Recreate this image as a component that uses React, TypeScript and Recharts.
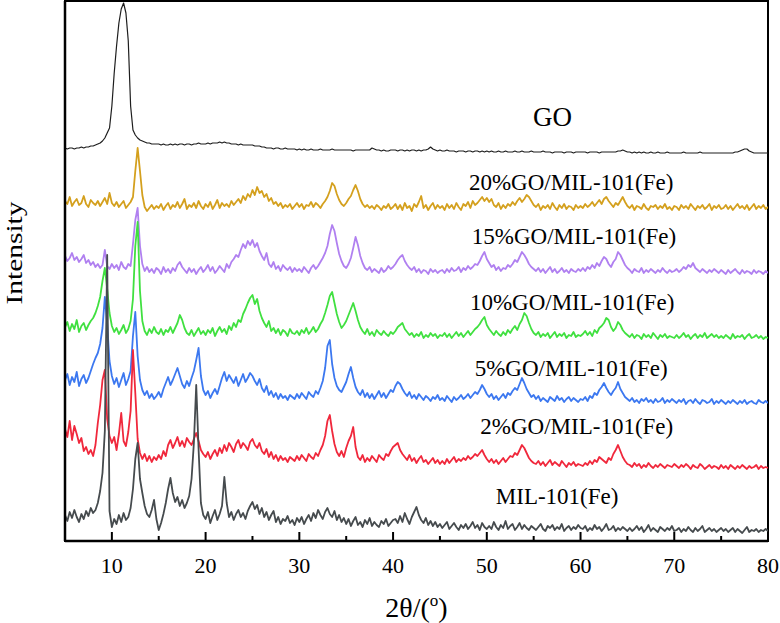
import React from 'react';
import { LineChart, Line, XAxis, YAxis, ReferenceArea, ReferenceDot } from 'recharts';

// 2θ sampling, 0.25° steps from 5° to 80°
const theta: number[] = [];
for (let i = 0; i <= 300; i++) theta.push(5 + i * 0.25);

const xTicks = [5, 10, 15, 20, 25, 30, 35, 40, 45, 50, 55, 60, 65, 70, 75, 80];

// raw intensities (a.u.), one row per 5°
const goValues = [
  13, 12, 13, 13, 12, 13, 13, 14, 13, 14, 14, 15, 15, 16, 17, 18, 20, 23, 28, 33,
  55, 88, 115, 138, 152, 158, 148, 120, 55, 31, 26, 23, 21, 20, 19, 18, 18, 17, 17, 17,
  17, 16, 17, 16, 16, 17, 16, 17, 16, 17, 17, 16, 17, 17, 16, 17, 17, 18, 17, 17,
  17, 18, 17, 18, 18, 18, 19, 18, 19, 18, 18, 17, 17, 17, 16, 17, 16, 16, 16, 16,
  16, 15, 15, 15, 14, 14, 13, 13, 13, 12, 13, 13, 12, 12, 13, 12, 12, 12, 12, 11,
  12, 11, 12, 11, 11, 12, 11, 11, 11, 12, 11, 11, 11, 11, 12, 11, 11, 11, 11, 11,
  11, 11, 11, 10, 11, 11, 11, 11, 11, 11, 11, 13, 12, 11, 11, 10, 11, 10, 10, 11,
  11,
  11, 10, 11, 11, 10, 11, 10, 11, 11, 10, 11, 10, 11, 11, 12, 14, 12, 11, 10, 11,
  10, 10, 11, 10, 10, 10, 9, 10, 10, 10, 9, 10, 10, 9, 10, 10, 9, 10, 9, 10,
  9, 10, 9, 9, 10, 9, 9, 10, 9, 9, 9, 10, 9, 9, 10, 9, 9, 9, 10, 9,
  9, 9, 9, 10, 9, 9, 9, 8, 9, 9, 9, 9, 8, 9, 9, 9, 8, 9, 9, 9,
  9, 9, 8, 9, 9, 9, 9, 8, 9, 9, 9, 9, 9, 9, 9, 10, 10, 11, 10, 9,
  9, 8, 9, 8, 9, 8, 9, 8, 8, 9, 8, 8, 9, 8, 8, 8, 9, 8, 8, 8,
  8, 8, 8, 9, 8, 8, 8, 8, 8, 8, 9, 8, 8, 8, 8, 8, 8, 8, 8, 8,
  8, 8, 8, 8, 8, 9, 9, 10, 11, 12, 12, 10, 9, 8, 8, 8, 8, 8, 8, 8,
];

const go20Values = [
  20, 17, 24, 15, 19, 22, 16, 18, 25, 17, 14, 21, 18, 16, 20, 15, 19, 23, 17, 28,
  18, 15, 19, 14, 17, 20, 13, 16, 19, 24, 50, 73, 50, 26, 14, 10, 13, 16, 12, 15,
  13, 17, 11, 15, 18, 12, 16, 14, 19, 13, 17, 22, 12, 16, 14, 18, 13, 20, 15, 12,
  17, 14, 19, 12, 16, 21, 13, 18, 15, 17, 14, 20, 16, 19, 22, 18, 25, 21, 27, 24,
  31, 26, 34, 28, 30, 24, 27, 20, 23, 17, 19, 15, 18, 13, 16, 14, 17, 12, 15, 18,
  14, 17, 12, 16, 15, 19, 14, 18, 16, 13, 17, 20, 24, 30, 38, 35, 27, 21, 17, 15,
  18, 22, 25, 31, 36, 30, 22, 17, 14, 16, 13, 15, 12, 16, 14, 11, 15, 13, 17, 12,
  14,
  17, 12, 16, 11, 18, 13, 15, 10, 17, 14, 19, 25, 13, 16, 11, 15, 18, 12, 16, 13,
  15, 11, 17, 13, 16, 12, 18, 14, 11, 17, 15, 19, 13, 20, 16, 18, 21, 24, 20, 23,
  19, 22, 16, 14, 18, 12, 16, 13, 17, 15, 19, 16, 20, 23, 19, 22, 26, 24, 20, 16,
  14, 17, 11, 15, 13, 16, 12, 18, 14, 11, 16, 13, 17, 12, 15, 14, 11, 16, 13, 15,
  13, 17, 14, 16, 19, 15, 18, 21, 17, 22, 24, 20, 17, 14, 18, 16, 20, 24, 19, 15,
  13, 16, 11, 15, 14, 12, 17, 13, 11, 15, 14, 16, 12, 15, 13, 17, 12, 14, 11, 15,
  14, 11, 16, 13, 15, 12, 17, 14, 11, 15, 13, 16, 12, 14, 17, 11, 15, 13, 16, 12,
  13, 16, 12, 15, 11, 14, 17, 13, 15, 12, 16, 11, 14, 17, 12, 15, 13, 16, 12, 14,
];

const go15Values = [
  30, 25, 28, 33, 26, 29, 24, 27, 31, 23, 26, 21, 24, 19, 22, 18, 21, 36, 20, 17,
  22, 18, 21, 16, 24, 19, 17, 22, 20, 42, 66, 78, 40, 22, 15, 19, 14, 17, 13, 18,
  16, 12, 19, 14, 17, 13, 18, 15, 21, 24, 19, 16, 13, 18, 14, 17, 12, 16, 19, 14,
  17, 21, 15, 19, 13, 16, 20, 17, 14, 22, 18, 24, 27, 31, 29, 36, 42, 38, 45, 41,
  46, 39, 43, 35, 30, 26, 33, 22, 19, 24, 17, 20, 15, 21, 18, 16, 19, 14, 18, 15,
  17, 14, 19, 16, 13, 18, 21, 17, 20, 24, 28, 33, 40, 52, 61, 55, 43, 32, 25, 20,
  18, 22, 28, 38, 49, 41, 30, 23, 18, 16, 19, 14, 17, 15, 13, 18, 14, 16, 20, 17,
  19,
  22, 26, 29, 31, 25, 21, 18, 16, 19, 14, 17, 13, 16, 15, 12, 17, 14, 16, 13, 15,
  16, 13, 17, 14, 18, 15, 16, 19, 14, 18, 16, 20, 17, 19, 22, 21, 25, 30, 34, 27,
  23, 19, 21, 16, 19, 15, 18, 17, 21, 19, 22, 26, 24, 29, 34, 31, 27, 22, 19, 17,
  15, 18, 14, 17, 13, 16, 19, 14, 17, 13, 15, 18, 14, 16, 13, 17, 15, 14, 17, 15,
  18, 15, 19, 17, 21, 18, 23, 20, 25, 29, 27, 22, 19, 24, 27, 34, 31, 26, 21, 18,
  16, 13, 17, 15, 14, 18, 13, 16, 14, 17, 15, 13, 16, 14, 18, 15, 13, 16, 14, 15,
  17, 14, 16, 19, 17, 21, 19, 23, 18, 16, 14, 17, 15, 13, 16, 14, 17, 15, 13, 16,
  14, 12, 16, 13, 15, 17, 14, 12, 16, 13, 15, 14, 12, 16, 13, 15, 14, 12, 15, 13,
];

const go10Values = [
  24, 29, 20, 27, 22, 31, 19, 25, 28, 21, 26, 30, 33, 38, 45, 54, 70, 83, 62, 38,
  25, 19, 23, 17, 21, 26, 18, 22, 30, 52, 105, 129, 60, 30, 20, 16, 22, 18, 24, 19,
  17, 22, 16, 21, 19, 24, 18, 23, 28, 36, 31, 23, 18, 16, 21, 15, 19, 23, 17, 20,
  16, 21, 18, 23, 15, 20, 24, 19, 22, 17, 25, 21, 28, 24, 31, 29, 37, 42, 48, 53,
  56, 47, 52, 40, 33, 28, 24, 30, 20, 23, 18, 22, 16, 21, 19, 15, 22, 18, 17, 20,
  16, 21, 18, 23, 17, 20, 24, 19, 22, 27, 31, 38, 46, 55, 59, 48, 37, 29, 23, 26,
  30, 36, 42, 48, 40, 31, 24, 20, 17, 22, 16, 19, 15, 21, 18, 16, 20, 17, 15, 19,
  17,
  20, 24, 26, 28, 22, 19, 16, 18, 14, 17, 15, 19, 13, 16, 14, 18, 15, 17, 13, 16,
  15, 18, 14, 17, 13, 16, 19, 15, 18, 14, 17, 20, 16, 19, 22, 24, 27, 31, 34, 26,
  22, 19, 16, 20, 17, 15, 19, 16, 21, 18, 22, 25, 21, 27, 31, 38, 35, 28, 22, 18,
  16, 19, 14, 17, 15, 18, 13, 16, 19, 14, 17, 15, 18, 13, 16, 15, 19, 14, 16, 15,
  17, 20, 16, 19, 15, 21, 18, 23, 25, 28, 33, 31, 24, 20, 23, 29, 26, 21, 18, 16,
  14, 17, 13, 16, 15, 12, 17, 14, 16, 13, 18, 15, 12, 16, 14, 17, 13, 15, 14, 13,
  16, 13, 15, 18, 14, 16, 12, 15, 17, 13, 16, 14, 18, 13, 15, 17, 14, 16, 13, 15,
  13, 16, 14, 12, 17, 13, 15, 14, 16, 12, 15, 17, 13, 14, 16, 13, 15, 12, 14, 13,
];

const go5Values = [
  36, 42, 31, 39, 34, 44, 30, 37, 41, 33, 38, 45, 52, 58, 63, 72, 88, 119, 92, 55,
  40, 32, 38, 29, 36, 43, 31, 37, 45, 80, 104, 60, 36, 26, 21, 25, 18, 22, 17, 20,
  24, 19, 27, 33, 39, 31, 36, 42, 48, 40, 32, 28, 35, 30, 38, 45, 56, 68, 40, 26,
  21, 25, 18, 23, 27, 22, 30, 38, 44, 35, 41, 37, 33, 39, 30, 36, 42, 34, 38, 43,
  40, 35, 31, 37, 28, 24, 30, 21, 25, 19, 23, 17, 22, 18, 20, 16, 21, 19, 17, 22,
  18, 23, 20, 17, 24, 21, 19, 25, 22, 28, 35, 48, 70, 76, 52, 38, 30, 26, 24, 29,
  34, 42, 49, 38, 29, 24, 21, 26, 19, 23, 18, 22, 17, 21, 25, 19, 23, 18, 22, 26,
  24,
  30, 34, 32, 27, 23, 20, 24, 18, 21, 17, 22, 19, 16, 20, 18, 15, 19, 17, 21, 16,
  18, 15, 20, 17, 14, 19, 16, 18, 21, 17, 19, 22, 18, 21, 24, 22, 26, 31, 27, 22,
  19, 22, 17, 20, 16, 19, 22, 18, 23, 21, 25, 28, 26, 32, 38, 33, 27, 23, 19, 21,
  17, 20, 15, 18, 16, 14, 19, 17, 15, 20, 16, 18, 14, 17, 19, 15, 18, 16, 14, 17,
  16, 19, 15, 20, 18, 23, 21, 26, 29, 33, 28, 24, 21, 25, 28, 34, 27, 23, 19, 17,
  15, 18, 14, 16, 13, 17, 15, 18, 14, 16, 13, 17, 14, 15, 18, 13, 16, 14, 17, 15,
  13, 16, 14, 17, 12, 15, 16, 13, 17, 14, 12, 16, 15, 13, 14, 17, 12, 15, 13, 16,
  14, 12, 15, 13, 16, 14, 12, 15, 13, 16, 12, 14, 15, 13, 12, 16, 14, 13, 15, 13,
];

const go2Values = [
  52, 44, 60, 41, 55, 47, 38, 43, 30, 34, 27, 31, 25, 36, 58, 76, 101, 111, 62, 45,
  38, 44, 31, 47, 68, 40, 35, 49, 70, 131, 88, 42, 28, 22, 27, 20, 25, 19, 24, 21,
  26, 22, 30, 25, 36, 41, 33, 38, 44, 35, 40, 34, 43, 39, 36, 42, 48, 40, 31, 27,
  24, 29, 22, 27, 31, 25, 33, 28, 36, 30, 38, 34, 29, 37, 41, 33, 38, 35, 31, 39,
  42, 36, 33, 38, 30, 27, 32, 24, 29, 22, 26, 20, 25, 21, 23, 19, 24, 22, 20, 25,
  21, 26, 23, 20, 27, 24, 22, 28, 25, 31, 36, 45, 60, 66, 50, 37, 29, 25, 30, 24,
  33, 40, 45, 54, 34, 24, 21, 26, 19, 23, 20, 25, 22, 19, 26, 23, 21, 27, 25, 30,
  34,
  36, 38, 31, 27, 24, 21, 26, 20, 23, 18, 22, 25, 19, 21, 17, 20, 23, 18, 21, 17,
  20, 17, 22, 18, 21, 24, 19, 22, 20, 23, 21, 25, 22, 24, 27, 25, 28, 31, 26, 22,
  19, 22, 18, 21, 17, 20, 23, 19, 22, 25, 24, 28, 26, 31, 36, 33, 28, 23, 20, 18,
  17, 20, 16, 19, 15, 18, 21, 16, 19, 17, 15, 20, 17, 14, 18, 16, 19, 15, 17, 16,
  15, 18, 16, 20, 17, 21, 19, 24, 22, 20, 18, 23, 21, 27, 31, 36, 30, 24, 20, 17,
  16, 14, 18, 15, 17, 13, 16, 14, 18, 15, 13, 16, 14, 17, 15, 13, 16, 15, 14, 17,
  15, 13, 16, 14, 17, 15, 12, 16, 14, 13, 17, 15, 12, 14, 16, 13, 15, 14, 12, 16,
  13, 15, 12, 16, 14, 12, 15, 13, 16, 14, 12, 15, 13, 14, 16, 12, 15, 13, 14, 13,
];

const milValues = [
  26, 20, 29, 23, 31, 24, 19, 27, 22, 30, 25, 33, 28, 31, 38, 50, 68, 110, 286, 30,
  14, 22, 17, 26, 19, 28, 21, 24, 33, 52, 82, 98, 62, 48, 35, 27, 24, 31, 41, 22,
  11, 18, 27, 38, 52, 63, 48, 39, 44, 35, 41, 33, 38, 45, 62, 98, 156, 92, 38, 26,
  22, 29, 18, 25, 31, 21, 27, 35, 64, 38, 24, 29, 21, 27, 31, 24, 28, 22, 30, 35,
  39, 32, 36, 27, 33, 24, 29, 21, 26, 30, 19, 24, 17, 22, 20, 25, 18, 21, 16, 23,
  19, 24, 17, 22, 26, 20, 28, 23, 31, 26, 22, 29, 33, 27, 24, 30, 21, 26, 19, 23,
  17, 22, 15, 20, 24, 16, 19, 14, 21, 17, 23, 15, 19, 16, 14, 20, 17, 22, 15, 18,
  21,
  22, 18, 25, 19, 28, 22, 17, 24, 29, 34, 26, 21, 18, 23, 16, 20, 15, 19, 14, 17,
  13, 16, 19, 12, 15, 18, 14, 11, 16, 13, 17, 12, 15, 19, 13, 16, 11, 18, 14, 12,
  15, 12, 19, 14, 11, 16, 13, 20, 12, 15, 17, 11, 14, 18, 12, 16, 13, 11, 15, 13,
  11, 14, 17, 12, 10, 15, 13, 16, 11, 14, 12, 17, 10, 13, 15, 11, 14, 12, 16, 13,
  12, 15, 10, 13, 11, 16, 12, 14, 10, 13, 17, 11, 12, 15, 10, 13, 11, 14, 12, 10,
  13, 10, 12, 15, 11, 14, 9, 12, 16, 10, 13, 11, 9, 14, 12, 10, 13, 11, 15, 10,
  11, 13, 9, 12, 10, 14, 11, 9, 13, 10, 12, 15, 9, 11, 13, 10, 12, 9, 11, 13,
  10, 12, 9, 11, 13, 9, 12, 10, 8, 11, 14, 9, 11, 10, 12, 9, 11, 10, 12, 10,
];

// vertical stacking offsets (a.u.)
const seriesNames = ['GO', '20%GO/MIL-101(Fe)', '15%GO/MIL-101(Fe)', '10%GO/MIL-101(Fe)', '5%GO/MIL-101(Fe)', '2%GO/MIL-101(Fe)', 'MIL-101(Fe)'];
const seriesOffsets = [380, 320, 255, 190, 125, 60, 0];
const seriesValues = [goValues, go20Values, go15Values, go10Values, go5Values, go2Values, milValues];
const seriesColors = ['#1e1e1e', '#D4A01E', '#B080F0', '#40E040', '#3C78F0', '#F0283C', '#464B4E'];

// where each curve's name sits (2θ, stacked intensity)
const labelTheta = [57.0, 59.0, 59.3, 59.1, 59.0, 59.6, 57.5];
const labelLevel = [415, 351, 297, 231, 165, 107, 37];
const labelSize = [27, 23, 23, 23, 23, 23, 23];

const data = theta.map((t, i) => {
  const row: Record<string, number> = { theta: t };
  seriesValues.forEach((vals, s) => {
    row['s' + s] = vals[i] + seriesOffsets[s];
  });
  return row;
});

const FONT = "'Liberation Serif', 'Times New Roman', serif";

const AxisTick = (props: any) => {
  const { x, y, payload } = props;
  const major = payload.value % 10 === 0;
  return (
    <g>
      <line x1={x} x2={x} y1={y} y2={y - (major ? 9 : 5)} stroke="#000" strokeWidth={2} />
      {major && (
        <text x={x} y={y + 32} textAnchor="middle" fontSize={22} fontFamily={FONT} fill="#000">
          {payload.value}
        </text>
      )}
    </g>
  );
};

const renderXLabel = (props: any) => {
  const vb = props.viewBox;
  return (
    <text x={vb.x + vb.width / 2} y={vb.y + 76} textAnchor="middle" fontSize={28} fontFamily={FONT} fill="#000">
      2θ/(<tspan dy={-11} fontSize={17}>o</tspan><tspan dy={11}>)</tspan>
    </text>
  );
};

const renderYLabel = (props: any) => {
  const vb = props.viewBox;
  const cx = vb.x + 22;
  const cy = vb.y + vb.height / 2 - 18;
  return (
    <text
      x={cx}
      y={cy}
      transform={`rotate(-90 ${cx} ${cy})`}
      textAnchor="middle"
      fontSize={23}
      fontFamily={FONT}
      textLength={103}
      lengthAdjust="spacingAndGlyphs"
      fill="#000"
    >
      Intensity
    </text>
  );
};

export default function App() {
  return (
    <div style={{ position: 'absolute', left: 0, top: 0, background: '#fff' }}>
      <LineChart width={780} height={623} data={data} margin={{ top: 1, right: 12, bottom: 0, left: 0 }}>
        <XAxis
          dataKey="theta"
          type="number"
          domain={[5, 80]}
          ticks={xTicks}
          interval={0}
          tickSize={0}
          tickMargin={0}
          tickLine={false}
          tick={<AxisTick />}
          height={82}
          axisLine={{ stroke: '#000', strokeWidth: 2.5 }}
          allowDataOverflow
          label={renderXLabel}
        />
        <YAxis
          type="number"
          domain={[0, 540]}
          tick={false}
          tickLine={false}
          width={65}
          axisLine={{ stroke: '#000', strokeWidth: 2.5 }}
          allowDataOverflow
          label={renderYLabel}
        />
        {seriesNames.map((name, s) => (
          <Line
            key={name}
            name={name}
            dataKey={'s' + s}
            type="linear"
            stroke={seriesColors[s]}
            strokeWidth={s === 0 ? 1.2 : 1.8}
            strokeLinejoin="round"
            dot={false}
            activeDot={false}
            isAnimationActive={false}
          />
        ))}
        <ReferenceArea x1={5} x2={80} y1={0} y2={540} fill="none" stroke="#000" strokeWidth={2} ifOverflow="visible" />
        {seriesNames.map((name, s) => (
          <ReferenceDot
            key={'lbl' + s}
            x={labelTheta[s]}
            y={labelLevel[s]}
            r={0}
            fill="none"
            stroke="none"
            label={(p: any) => (
              <text x={p.viewBox.x} y={p.viewBox.y} textAnchor="middle" fontSize={labelSize[s]} fontFamily={FONT} fill="#000">
                {name}
              </text>
            )}
          />
        ))}
      </LineChart>
    </div>
  );
}
